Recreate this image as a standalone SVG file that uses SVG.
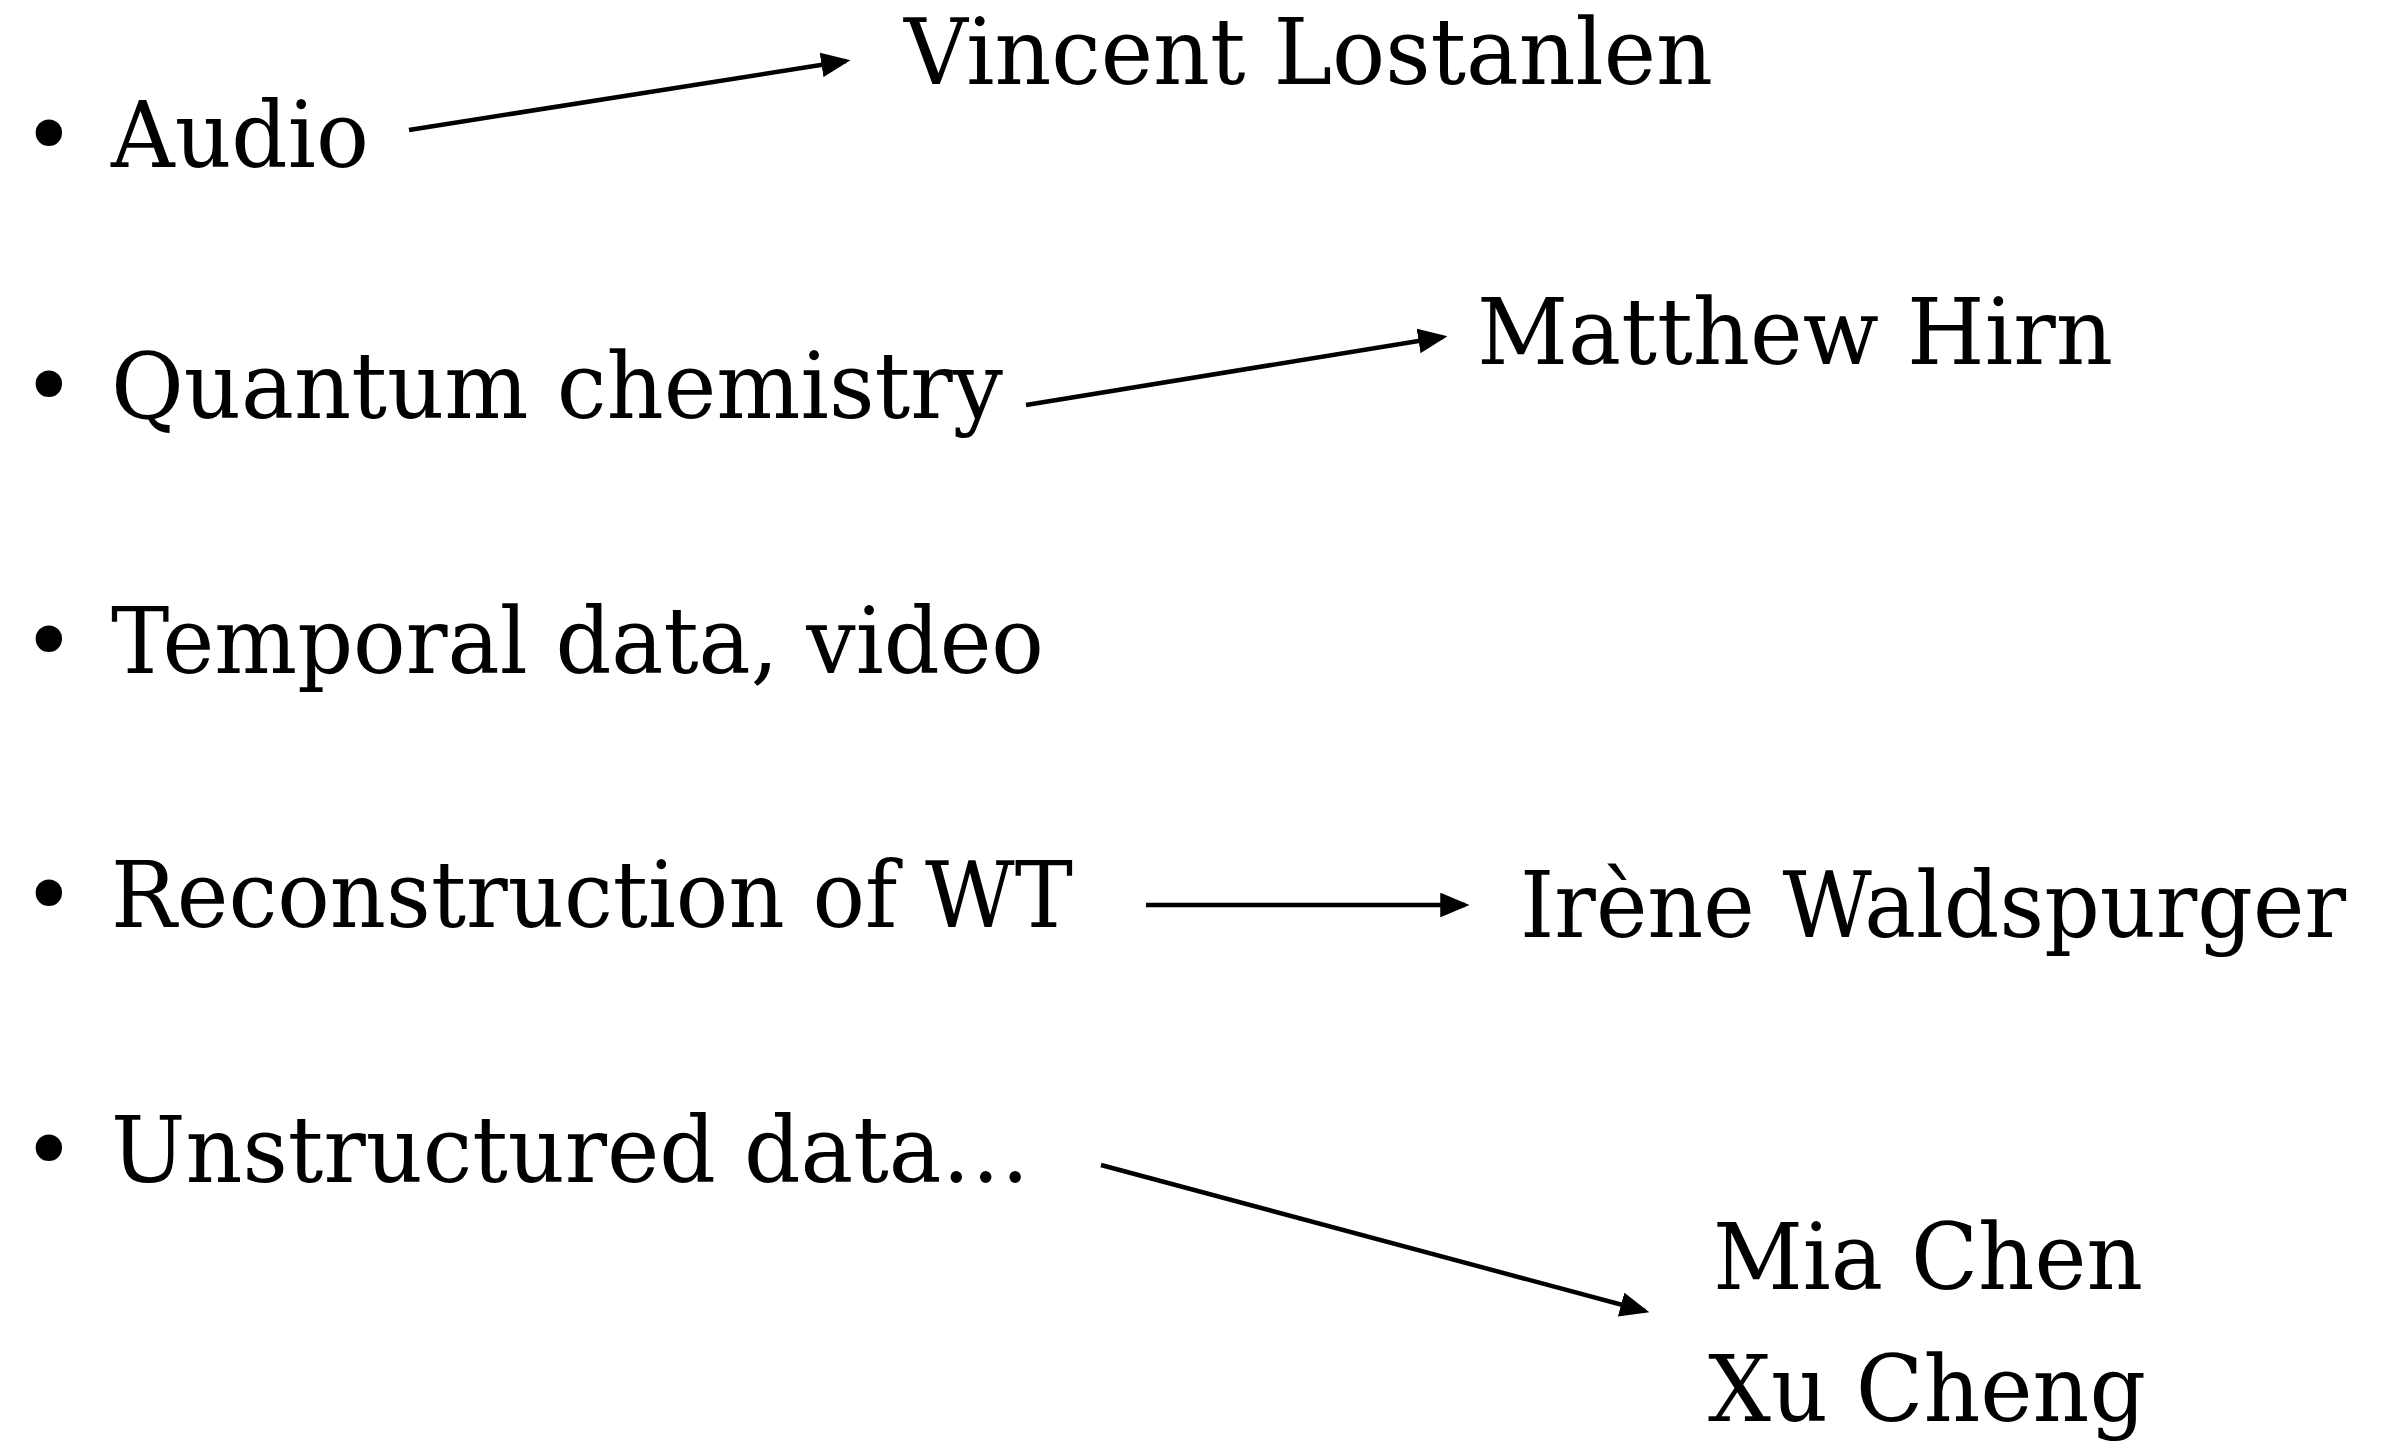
<svg xmlns="http://www.w3.org/2000/svg" width="2383" height="1444" viewBox="0 0 2383 1444">
<style>
text{font-family:"DejaVu Serif","Liberation Serif",serif;font-size:91px;fill:#000}
.c{stroke:#000;stroke-width:4.5;fill:none}
</style>
<defs>
<marker id="ah" markerWidth="6.5" markerHeight="5.5" refX="5.5" refY="2.75" orient="auto" markerUnits="strokeWidth">
<path d="M0,0 L6.5,2.75 L0,5.5 Z" fill="#000"/>
</marker>
</defs>
<rect width="2383" height="1444" fill="#fff"/>
<g id="topics">
<g id="audio"><text x="22" y="167">•</text><text x="111" y="167" textLength="258" lengthAdjust="spacingAndGlyphs">Audio</text></g>
<g id="quantum"><text x="22" y="418">•</text><text x="111" y="418" textLength="892" lengthAdjust="spacingAndGlyphs">Quantum chemistry</text></g>
<g id="temporal"><text x="22" y="673">•</text><text x="111" y="673" textLength="933" lengthAdjust="spacingAndGlyphs">Temporal data, video</text></g>
<g id="reconstruction"><text x="22" y="927">•</text><text x="111" y="927" textLength="962" lengthAdjust="spacingAndGlyphs">Reconstruction of WT</text></g>
<g id="unstructured"><text x="22" y="1182">•</text><text x="111" y="1182" textLength="919" lengthAdjust="spacingAndGlyphs">Unstructured data…</text></g>
</g>
<g id="people">
<g id="lostanlen"><text x="904" y="84" textLength="809" lengthAdjust="spacingAndGlyphs">Vincent Lostanlen</text></g>
<g id="hirn"><text x="1477" y="364" textLength="636" lengthAdjust="spacingAndGlyphs">Matthew Hirn</text></g>
<g id="waldspurger"><text x="1520" y="937" textLength="826" lengthAdjust="spacingAndGlyphs">Irène Waldspurger</text></g>
<g id="chen"><text x="1713" y="1289" textLength="430" lengthAdjust="spacingAndGlyphs">Mia Chen</text><text x="1708" y="1421" textLength="438" lengthAdjust="spacingAndGlyphs">Xu Cheng</text></g>
</g>
<g id="connectors">
<line class="c" x1="409" y1="130" x2="846" y2="61" marker-end="url(#ah)"/>
<line class="c" x1="1026" y1="405" x2="1443" y2="337" marker-end="url(#ah)"/>
<line class="c" x1="1146" y1="905" x2="1465" y2="905" marker-end="url(#ah)"/>
<line class="c" x1="1101" y1="1165" x2="1645" y2="1311" marker-end="url(#ah)"/>
</g>
</svg>
